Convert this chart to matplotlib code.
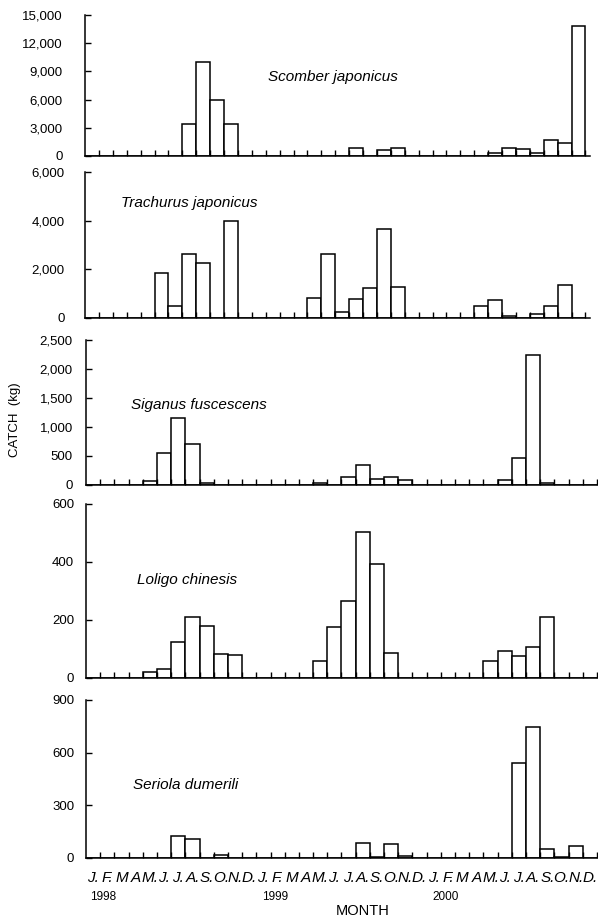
import matplotlib
matplotlib.use("Agg")
import matplotlib.pyplot as plt
from matplotlib.ticker import FuncFormatter

plt.rcParams['font.family'] = ['Liberation Sans', 'DejaVu Sans']

# monthly catch (kg), Jan 1998 .. Dec 2000 (36 months)
months = ['J.', 'F.', 'M', 'A', 'M.', 'J.', 'J.', 'A.', 'S.', 'O.', 'N.', 'D.'] * 3
years = ['1998', '1999', '2000']

scomber = [0, 0, 0, 0, 0, 0, 0, 3400, 9950, 6000, 3450, 0,
           0, 0, 0, 0, 0, 0, 0, 850, 0, 650, 800, 0,
           0, 0, 0, 0, 0, 350, 800, 700, 350, 1700, 1400, 13800]
trachurus = [0, 0, 0, 0, 0, 1860, 480, 2650, 2250, 0, 4000, 0,
             0, 0, 0, 0, 825, 2640, 260, 800, 1250, 3640, 1280, 0,
             0, 0, 0, 0, 480, 730, 80, 0, 180, 480, 1350, 0]
siganus = [0, 0, 0, 0, 70, 550, 1150, 700, 30, 0, 0, 0,
           0, 0, 0, 0, 30, 0, 130, 350, 100, 140, 90, 0,
           0, 0, 0, 0, 0, 90, 470, 2250, 30, 0, 0, 0]
loligo = [0, 0, 0, 0, 20, 30, 125, 210, 178, 82, 80, 0,
          0, 0, 0, 0, 58, 176, 267, 505, 392, 86, 0, 0,
          0, 0, 0, 0, 60, 92, 75, 108, 211, 0, 0, 0]
seriola = [0, 0, 0, 0, 0, 0, 125, 110, 0, 18, 0, 0,
           0, 0, 0, 0, 0, 0, 0, 88, 5, 80, 10, 0,
           0, 0, 0, 0, 0, 0, 542, 744, 51, 3, 66, 0]

species = ['Scomber japonicus', 'Trachurus japonicus', 'Siganus fuscescens',
           'Loligo chinesis', 'Seriola dumerili']
series = [scomber, trachurus, siganus, loligo, seriola]
ymax = [15000, 6000, 2500, 600, 900]
ystep = [3000, 2000, 500, 200, 300]


def main():
    W, H = 598, 924
    fig = plt.figure(figsize=(W / 100, H / 100), dpi=100)

    # panel extents in pixels: (y of zero line, y of top value)
    rows = [(156, 15), (318, 172), (485, 340), (678, 504), (858, 700)]
    # x extents in pixels: (left, right, month width) - the upper two panels are a bit narrower
    cols = [(85, 590, 13.9), (85, 590, 13.9), (86, 597, 14.2),
            (86, 597, 14.2), (86, 597, 14.2)]
    label_pad = [16, 14.5, 9.5, 8.5, 8.5]
    # text position: left x (px), centre y (px)
    text_pos = [(268, 77), (121, 203), (131, 405), (137, 580), (133, 785)]

    for k, (bot, top) in enumerate(rows):
        x0, x1, slot = cols[k]
        ax = fig.add_axes([x0 / W, 1 - bot / H, (x1 - x0) / W, (bot - top) / H])
        xs = [i + 0.5 for i in range(len(series[k]))]
        ax.bar(xs, series[k], width=1.0, facecolor='white',
               edgecolor='black', linewidth=1.1)
        ax.set_xlim(0, (x1 - x0) / slot)
        ax.set_ylim(0, ymax[k])
        for s in ['top', 'right']:
            ax.spines[s].set_visible(False)
        for s in ['left', 'bottom']:
            ax.spines[s].set_linewidth(1.1)
        ax.set_yticks(range(0, ymax[k] + 1, ystep[k]))
        ax.yaxis.set_major_formatter(FuncFormatter(lambda v, p: f"{int(v):,}"))
        ax.tick_params(axis='y', direction='in', length=4, width=1,
                       pad=label_pad[k], labelsize=9.5)
        ax.set_xticks(range(1, 37))
        ax.set_xticklabels([])
        ax.tick_params(axis='x', which='major', direction='in', length=4, width=1)
        ax.text(text_pos[k][0] / W, 1 - text_pos[k][1] / H, species[k],
                transform=fig.transFigure, fontsize=11, style='italic',
                ha='left', va='center')
        if k == len(rows) - 1:
            ax.set_xticks(xs, minor=True)
            ax.set_xticklabels(months, minor=True, style='italic', fontsize=11)
            ax.tick_params(axis='x', which='minor', length=0, pad=9)

    for x, yr in zip([90, 262, 432], years):
        fig.text(x / W, 1 - 897 / H, yr, fontsize=8.5, ha='left', va='center')
    fig.text(363 / W, 1 - 911 / H, 'MONTH', fontsize=10.5, ha='center', va='center')
    fig.text(15 / W, 1 - 420 / H, 'CATCH  (kg)', fontsize=9.5, rotation=90,
             ha='center', va='center')

    fig.savefig('out.png', dpi=100)


if __name__ == "__main__":
    main()
